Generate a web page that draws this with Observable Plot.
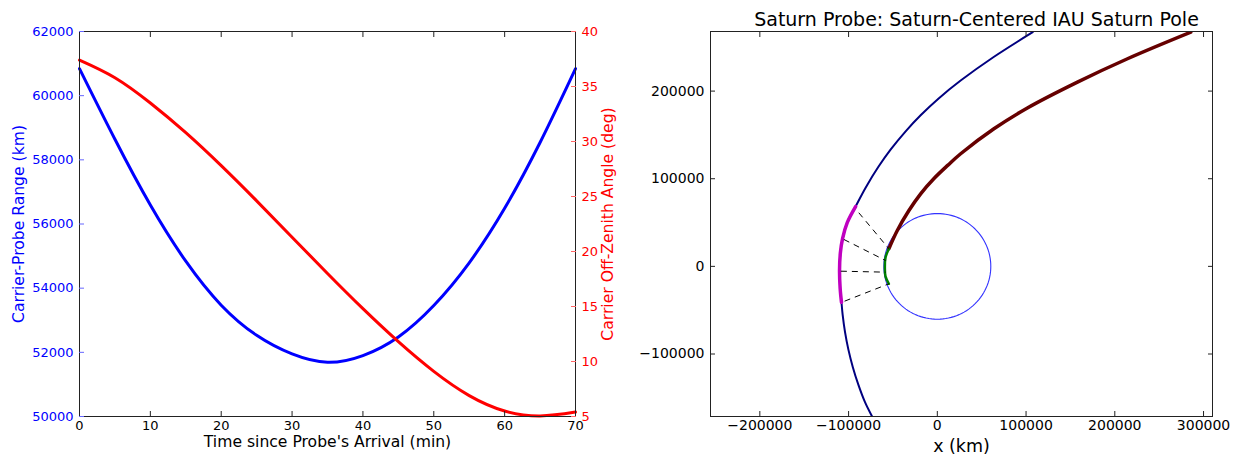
<!DOCTYPE html>
<html>
<head>
<meta charset="utf-8">
<script src="https://cdn.jsdelivr.net/npm/d3@7"></script>
<script src="https://cdn.jsdelivr.net/npm/@observablehq/plot@0.6"></script>
<style>
  html, body { margin: 0; padding: 0; background: white; }
  #wrap { position: relative; width: 1238px; height: 455px; font-family: "DejaVu Sans", sans-serif; }
  #left { position: absolute; left: 0; top: 0; }
  #right { position: absolute; left: 628px; top: 0; }
</style>
</head>
<body>
<div id="wrap"><div id="left"></div><div id="right"></div></div>
<script>
// ---------- Left panel data ----------
const timeMin = [0, 5, 10, 15, 20, 25, 30, 35, 40, 45, 50, 55, 60, 65, 70];
const rangeKm = [60840, 58640, 56590, 54840, 53470, 52530, 51950, 51690, 51900, 52480, 53460, 54790, 56490, 58540, 60840];
const angleDeg = [37.4, 35.8, 33.5, 30.8, 27.8, 24.6, 21.3, 18.0, 14.8, 11.8, 9.1, 6.9, 5.5, 5.05, 5.4];
const timeTicks = [0, 10, 20, 30, 40, 50, 60, 70];
const rangeTicks = [50000, 52000, 54000, 56000, 58000, 60000, 62000];
const angleTicks = [5, 10, 15, 20, 25, 30, 35, 40];
const rangeDomain = [50000, 62000];
const angleDomain = [5, 40];

// ---------- Right panel data ----------
const navyX = [-73500, -81500, -89000, -95200, -100200, -104000, -106700, -108000, -109500, -110200, -109300, -106800, -101500, -92100, -80800, -66200, -52700, -35700, -18800, 1500, 26300, 63500, 107500];
const navyY = [-171300, -155000, -135000, -115000, -95000, -75000, -55000, -41000, -25000, -5000, 15000, 31800, 50000, 68300, 89800, 113900, 133200, 154100, 172400, 191600, 212000, 238900, 267200];
const magentaX = [-92100, -101500, -106800, -109300, -110200, -109500, -108000];
const magentaY = [68300, 50000, 31800, 15000, -5000, -25000, -41000];
const maroonX = [-54600, -45100, -32000, -18800, -4000, 12000, 26300, 63800, 101500, 157900, 214300, 285600];
const maroonY = [20100, 41000, 63700, 82800, 100000, 115500, 128500, 157000, 180700, 210200, 236900, 267200];
const greenX = [-54600, -58400, -59100, -58400, -54600];
const greenY = [20100, 10000, -900, -11400, -19900];
const dashFromX = [-88500, -105300, -108700, -104500];
const dashFromY = [61200, 30700, -5500, -39700];
const dashToX = [-54600, -58300, -58300, -54600];
const dashToY = [20100, 6700, -6600, -19900];
const saturnRadius = 60268;
const xTicksKm = [-200000, -100000, 0, 100000, 200000, 300000];
const yTicksKm = [-100000, 0, 100000, 200000];
const xDomainKm = [-255600, 310100];
const yDomainKm = [-171300, 268000];

// ---------- Left panel ----------
const toRange = a => rangeDomain[0] + (a - angleDomain[0]) * (rangeDomain[1] - rangeDomain[0]) / (angleDomain[1] - angleDomain[0]);
const toAngle = r => angleDomain[0] + (r - rangeDomain[0]) * (angleDomain[1] - angleDomain[0]) / (rangeDomain[1] - rangeDomain[0]);

const rangeRows = timeMin.map((t, i) => ({t, v: rangeKm[i]}));
const angleRows = timeMin.map((t, i) => ({t, v: toRange(angleDeg[i])}));

const fmtInt = d3.format("d");

const left = Plot.plot({
  width: 628, height: 455,
  marginLeft: 79, marginRight: 53, marginTop: 31, marginBottom: 39,
  style: {fontFamily: "DejaVu Sans", fontSize: "13px", background: "white"},
  x: {domain: [0, 70]},
  y: {domain: rangeDomain},
  marks: [
    Plot.line(rangeRows, {x: "t", y: "v", stroke: "#0000ff", strokeWidth: 3, curve: "natural"}),
    Plot.line(angleRows, {x: "t", y: "v", stroke: "#ff0000", strokeWidth: 3, curve: "natural"}),
    Plot.frame({stroke: "#222", strokeWidth: 1}),
    Plot.axisX({ticks: timeTicks, tickSize: -5, tickPadding: 9, label: null, tickFormat: fmtInt, fill: "black", stroke: "#222"}),
    Plot.axisX({anchor: "top", ticks: timeTicks, tickSize: -5, label: null, tickFormat: () => "", stroke: "#222"}),
    Plot.axisY({anchor: "left", ticks: rangeTicks, tickSize: -5, tickPadding: 11, label: null, tickFormat: fmtInt, fill: "#0000ff", stroke: "#6666ff"}),
    Plot.axisY({anchor: "right", ticks: angleTicks.map(toRange), tickSize: -5, tickPadding: 11, label: null, tickFormat: d => fmtInt(Math.round(toAngle(d))), fill: "#ff0000", stroke: "#ff6666"}),
    Plot.text(["Time since Probe's Arrival (min)"], {frameAnchor: "bottom", lineAnchor: "middle", textAnchor: "middle", dy: 25, fontSize: 15.6, fill: "black"}),
    Plot.text(["Carrier-Probe Range (km)"], {frameAnchor: "left", lineAnchor: "middle", textAnchor: "middle", dx: -61, rotate: -90, fontSize: 15.6, fill: "#0000ff"}),
    Plot.text(["Carrier Off-Zenith Angle (deg)"], {frameAnchor: "right", lineAnchor: "middle", textAnchor: "middle", dx: 32, rotate: -90, fontSize: 15.6, fill: "#ff0000"})
  ]
});
document.getElementById("left").appendChild(left);

// ---------- Right panel ----------
const pts = (xs, ys) => xs.map((x, i) => ({x, y: ys[i]}));
const circleRows = d3.range(0, 361, 3).map(a => ({x: saturnRadius * Math.cos(a * Math.PI / 180), y: saturnRadius * Math.sin(a * Math.PI / 180)}));
const dashRows = dashFromX.map((x, i) => ({x1: x, y1: dashFromY[i], x2: dashToX[i], y2: dashToY[i]}));

const right = Plot.plot({
  width: 610, height: 455,
  marginLeft: 82, marginRight: 26, marginTop: 31, marginBottom: 39,
  style: {fontFamily: "DejaVu Sans", fontSize: "14px", background: "white"},
  x: {domain: xDomainKm},
  y: {domain: yDomainKm},
  marks: [
    Plot.line(circleRows, {x: "x", y: "y", stroke: "#3333ff", strokeWidth: 1.1}),
    Plot.line(pts(navyX, navyY), {x: "x", y: "y", stroke: "#000080", strokeWidth: 2, curve: "catmull-rom", clip: true}),
    Plot.line(pts(magentaX, magentaY), {x: "x", y: "y", stroke: "#c000c0", strokeWidth: 3.5, curve: "catmull-rom"}),
    Plot.line(pts(maroonX, maroonY), {x: "x", y: "y", stroke: "#660000", strokeWidth: 3.5, curve: "catmull-rom", clip: true}),
    Plot.line(pts(greenX, greenY), {x: "x", y: "y", stroke: "#008000", strokeWidth: 2.5, curve: "catmull-rom"}),
    Plot.link(dashRows, {x1: "x1", y1: "y1", x2: "x2", y2: "y2", stroke: "black", strokeWidth: 1, strokeDasharray: "6,5"}),
    Plot.frame({stroke: "#222", strokeWidth: 1}),
    Plot.axisX({ticks: xTicksKm, tickSize: -5, tickPadding: 9, label: null, tickFormat: fmtInt, fill: "black", stroke: "#222"}),
    Plot.axisX({anchor: "top", ticks: xTicksKm, tickSize: -5, label: null, tickFormat: () => "", stroke: "#222"}),
    Plot.axisY({anchor: "left", ticks: yTicksKm, tickSize: -5, tickPadding: 11, label: null, tickFormat: fmtInt, fill: "black", stroke: "#222"}),
    Plot.axisY({anchor: "right", ticks: yTicksKm, tickSize: -5, label: null, tickFormat: () => "", stroke: "#222"}),
    Plot.text(["x (km)"], {frameAnchor: "bottom", lineAnchor: "middle", dy: 30, fontSize: 17.5, fill: "black"}),
    Plot.text(["Saturn Probe: Saturn-Centered IAU Saturn Pole"], {frameAnchor: "top", lineAnchor: "middle", dx: 15, dy: -12, fontSize: 19, fill: "black"})
  ]
});
document.getElementById("right").appendChild(right);
</script>
</body>
</html>
